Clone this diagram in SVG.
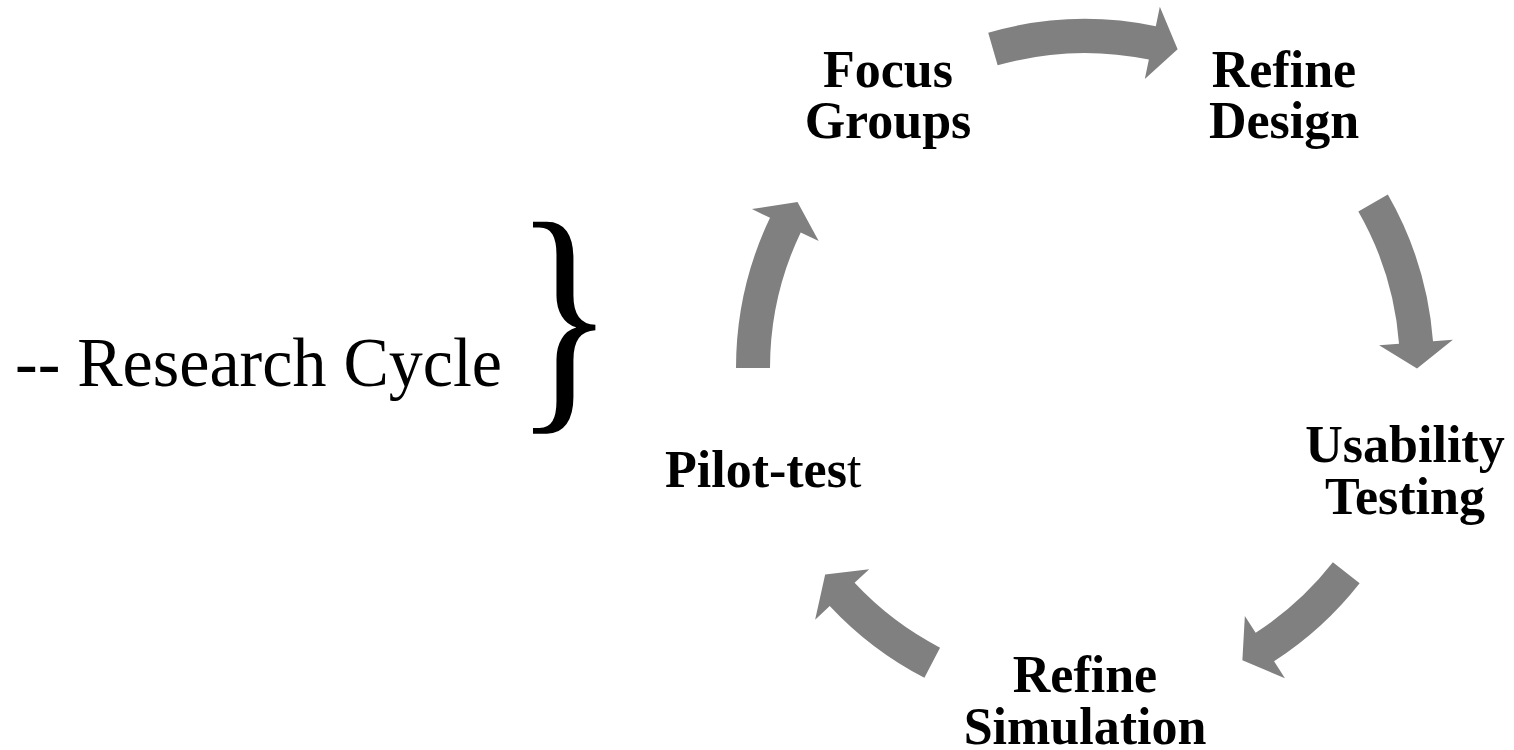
<svg xmlns="http://www.w3.org/2000/svg" width="1514" height="750" viewBox="0 0 1514 750">
<style>
.lbl{font-family:"Liberation Serif","Times New Roman",serif;font-weight:bold;font-size:52px;fill:#000;text-anchor:middle}
.arr{fill:#808080}
.title{font-family:"Liberation Serif","Times New Roman",serif;font-size:69px;fill:#000}
</style>
<rect width="1514" height="750" fill="#fff"/>
<g id="title">
<text class="title" x="15" y="386" textLength="487" lengthAdjust="spacingAndGlyphs">-- Research Cycle</text>
<text class="title" transform="translate(514 399.5) scale(0.857 1.05)" x="0" y="0" style="font-size:244px">}</text>
</g>
<g id="connectors">
<path class="arr" transform="translate(1085 368) rotate(-106.1)" d="M349 0 A349 349 0 0 1 308.7 162.8 L326.4 172.1 L280.6 177.4 L261.0 137.6 L278.6 146.9 A315 315 0 0 0 315 0 Z"/>
<path class="arr" transform="translate(1085 368) rotate(-29.8)" d="M349 0 A349 349 0 0 1 315.3 149.7 L333.3 158.3 L287.8 165.5 L266.5 126.5 L284.5 135.1 A315 315 0 0 0 315 0 Z"/>
<path class="arr" transform="translate(1085 368) rotate(38.1)" d="M349 0 A349 349 0 0 1 329.8 114.2 L348.7 120.7 L304.2 132.9 L278.8 96.5 L297.7 103.1 A315 315 0 0 0 315 0 Z"/>
<path class="arr" transform="translate(1085 368) rotate(117.4)" d="M349 0 A349 349 0 0 1 328.8 117.1 L347.6 123.8 L303.0 135.6 L277.9 99.0 L296.8 105.7 A315 315 0 0 0 315 0 Z"/>
<path class="arr" transform="translate(1085 368) rotate(180)" d="M349 0 A349 349 0 0 1 315.0 150.2 L333.1 158.9 L287.5 166.0 L266.3 127.0 L284.3 135.6 A315 315 0 0 0 315 0 Z"/>
</g>
<g id="focus-groups"><text class="lbl" x="888" y="87">Focus<tspan x="888" dy="51">Groups</tspan></text></g>
<g id="refine-design"><text class="lbl" x="1284" y="87">Refine<tspan x="1284" dy="51">Design</tspan></text></g>
<g id="usability-testing"><text class="lbl" x="1405" y="462">Usability<tspan x="1405" dy="52">Testing</tspan></text></g>
<g id="refine-simulation"><text class="lbl" x="1085" y="692">Refine<tspan x="1085" dy="52">Simulation</tspan></text></g>
<g id="pilot-test"><text class="lbl" x="665" y="487" style="text-anchor:start">Pilot-tes<tspan style="font-weight:normal">t</tspan></text></g>
</svg>
